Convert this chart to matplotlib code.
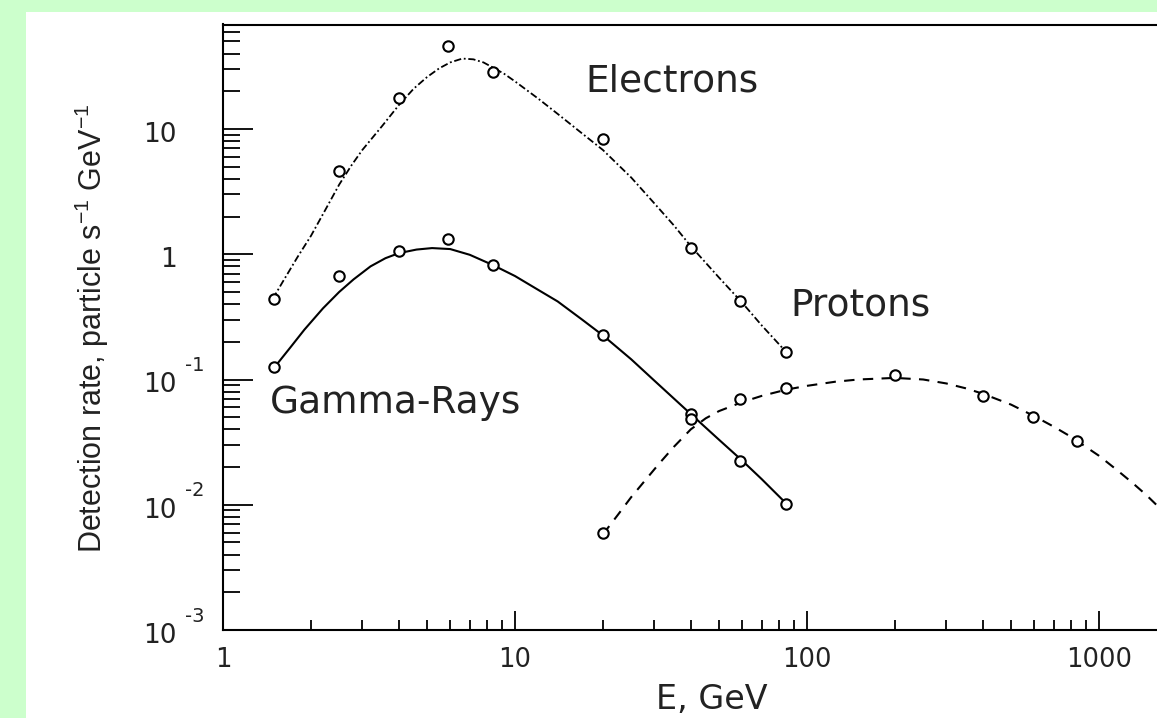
import numpy as np
import matplotlib
matplotlib.use("Agg")
import matplotlib.pyplot as plt
from matplotlib.patches import Rectangle
from matplotlib.ticker import LogLocator, NullFormatter
from matplotlib.transforms import offset_copy

plt.rcParams['font.family'] = ['DejaVu Sans']
plt.rcParams['mathtext.fontset'] = 'custom'
plt.rcParams['mathtext.rm'] = 'Liberation Sans'
plt.rcParams['mathtext.it'] = 'Liberation Sans:italic'

# measured points (open circles)
energy_pts = [1.5, 2.5, 4.0, 5.9, 8.4, 20, 40, 59, 85]
electron_pts = [0.44, 4.6, 17.7, 46, 28.6, 8.3, 1.13, 0.42, 0.167]
gamma_pts = [0.125, 0.667, 1.06, 1.32, 0.816, 0.225, 0.053, 0.0225, 0.0102]
proton_energy_pts = [20, 40, 59, 85, 200, 400, 594, 841]
proton_pts = [0.0059, 0.048, 0.0705, 0.0863, 0.108, 0.0745, 0.0506, 0.0325]

# fitted curves
electron_fit_e = [1.48, 1.6, 1.8, 2.0, 2.25, 2.5, 2.75, 3.0, 3.5, 4.0, 4.5, 5.0,
                  5.5, 6.0, 6.6, 7.2, 7.8, 8.5, 9.2, 10, 12, 14, 16.7, 20, 25,
                  30, 35, 40, 50, 60, 70, 85]
electron_fit = [0.44, 0.6, 0.95, 1.4, 2.3, 3.6, 5.1, 6.8, 10.5, 15.5, 21, 26,
                30.5, 34, 36.5, 36, 34, 30.5, 27.5, 24, 17.5, 13.2, 9.5, 6.8, 4.1,
                2.55, 1.7, 1.16, 0.65, 0.41, 0.27, 0.165]
gamma_fit_e = [1.5, 1.7, 1.9, 2.2, 2.5, 2.8, 3.2, 3.6, 4.0, 4.6, 5.2, 6.0, 7.0,
               8.4, 10, 12, 14, 17, 20, 25, 30, 40, 50, 60, 70, 85]
gamma_fit = [0.125, 0.18, 0.25, 0.37, 0.5, 0.63, 0.8, 0.93, 1.02, 1.09, 1.12,
             1.1, 0.99, 0.82, 0.67, 0.52, 0.42, 0.3, 0.225, 0.145, 0.098, 0.053,
             0.033, 0.0225, 0.016, 0.0102]
proton_fit_e = [20, 22.5, 25, 28, 31, 35, 40, 45, 50, 55, 60, 70, 85, 100, 125,
                150, 200, 250, 300, 350, 400, 500, 600, 700, 800, 1000, 1150,
                1300, 1450, 1600, 1800]
proton_fit = [0.0058, 0.0083, 0.0115, 0.0158, 0.021, 0.029, 0.040, 0.049, 0.056,
              0.061, 0.066, 0.074, 0.083, 0.089, 0.096, 0.1, 0.103, 0.1, 0.093,
              0.085, 0.077, 0.063, 0.051, 0.042, 0.035, 0.0246, 0.019, 0.015,
              0.012, 0.0096, 0.0073]

x_ticks = [1, 10, 100, 1000]
x_tick_labels = ['1', '10', '100', '1000']
y_ticks = [1e-3, 1e-2, 1e-1, 1, 10]
y_tick_base = ['10', '10', '10', '1', '10']
y_tick_exp = ['-3', '-2', '-1', '', '']

W, H = 1157, 718
fig = plt.figure(figsize=(W / 100, H / 100), dpi=100)
fig.patch.set_facecolor('#ccffcc')
fig.patches.append(Rectangle((26 / W, 0), 1, (H - 12) / H, transform=fig.transFigure,
                             facecolor='white', edgecolor='none', zorder=-5))

ax = fig.add_axes([223 / W, (H - 630) / H, 977 / W, 605.5 / H])
ax.set_zorder(2)
ax.set_xscale('log')
ax.set_yscale('log')
ax.set_xlim(1, 10 ** (977 / 292))
ax.set_ylim(1e-3, 10 ** (-3 + 605.5 / 125.25))

ax.plot(electron_fit_e, electron_fit, color='black', lw=1.3,
        linestyle=(0, (4, 1.5, 1, 1.5)))
ax.plot(gamma_fit_e, gamma_fit, color='black', lw=1.5, linestyle='-')
ax.plot(proton_fit_e, proton_fit, color='black', lw=1.5, linestyle=(0, (5, 4)))

mk = dict(linestyle='none', marker='o', mfc='white', mec='black', ms=7.5, mew=1.5)
ax.plot(energy_pts, electron_pts, **mk)
ax.plot(energy_pts, gamma_pts, **mk)
ax.plot(proton_energy_pts, proton_pts, **mk)

for s in ax.spines.values():
    s.set_linewidth(1.5)

ax.xaxis.set_minor_locator(LogLocator(base=10, subs=np.arange(2, 10)))
ax.yaxis.set_minor_locator(LogLocator(base=10, subs=np.arange(2, 10)))
ax.xaxis.set_minor_formatter(NullFormatter())
ax.yaxis.set_minor_formatter(NullFormatter())
ax.set_xticks(x_ticks, x_tick_labels)
ax.set_yticks(y_ticks)
ax.tick_params(axis='x', which='major', direction='in', length=13.7, width=1.3,
               labelsize=18.5, pad=12, top=False, labelcolor='#222222')
ax.tick_params(axis='x', which='minor', direction='in', length=7.2, width=1.3, top=False)
ax.tick_params(axis='y', which='major', direction='in', length=21.6, width=1.3,
               labelleft=False, right=False)
ax.tick_params(axis='y', which='minor', direction='in', length=12, width=1.3, right=False)

# y tick labels: base number right-aligned, exponent hanging to the right
base_tr = offset_copy(ax.get_yaxis_transform(), fig=fig, x=-46, y=-6, units='dots')
exp_tr = offset_copy(ax.get_yaxis_transform(), fig=fig, x=-38, y=14, units='dots')
for yv, b, e in zip(y_ticks, y_tick_base, y_tick_exp):
    ax.text(0, yv, b, transform=base_tr, ha='right', va='center', fontsize=19,
            color='#222222', clip_on=False)
    if e:
        ax.text(0, yv, e, transform=exp_tr, ha='left', va='center', fontsize=14,
                color='#222222', clip_on=False)

ax.text(17.4, 20.1, 'Electrons', fontsize=27, color='#222222', va='baseline')
ax.text(1.45, 0.0545, 'Gamma-Rays', fontsize=27, color='#222222', va='baseline')
ax.text(87.5, 0.325, 'Protons', fontsize=27, color='#222222', va='baseline')

fig.text(92 / W, 1 - 328 / H, 'Detection rate, particle s$^{-1}$ GeV$^{-1}$',
         rotation=90, ha='center', va='center', fontsize=22,
         family='Liberation Sans', color='#222222')
fig.text(712 / W, 1 - 709 / H, 'E, GeV', ha='center', va='baseline', fontsize=24,
         color='#222222')

fig.savefig('out.png', dpi=100, facecolor=fig.get_facecolor())
